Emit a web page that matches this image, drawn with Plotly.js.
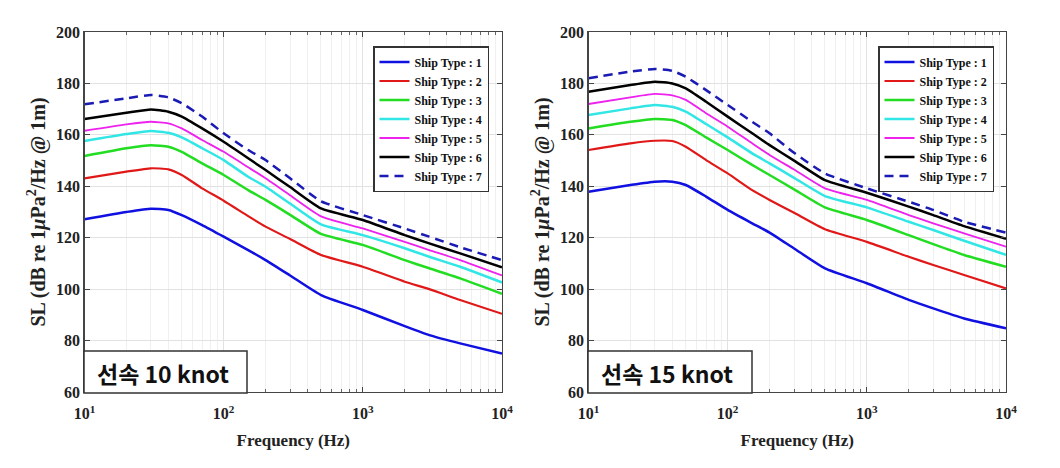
<!DOCTYPE html>
<html>
<head>
<meta charset="utf-8">
<script src="https://cdn.plot.ly/plotly-3.0.1.min.js"></script>
<style>html,body{margin:0;padding:0;background:#fff;}#chart{width:1060px;height:468px;}</style>
</head>
<body>
<div id="chart"></div>
<script>
// Frequencies (Hz)
const freq = [10, 20, 30, 40, 50, 70, 100, 150, 200, 300, 500, 1000, 2000, 3000, 5000, 10000];

// 10 knot
const k10_type1 = [127.2, 130.0, 131.3, 130.8, 128.8, 124.9, 120.4, 115.2, 111.3, 105.3, 97.7, 91.9, 85.6, 82.1, 78.9, 75.0];
const k10_type2 = [143.1, 145.7, 147.0, 146.6, 144.4, 139.2, 134.4, 128.4, 124.3, 119.5, 113.3, 108.7, 102.9, 100.0, 95.8, 90.4];
const k10_type3 = [151.8, 154.8, 156.0, 155.4, 153.4, 148.9, 144.4, 138.5, 134.7, 128.9, 121.5, 117.2, 111.3, 108.1, 104.2, 98.2];
const k10_type4 = [157.6, 160.3, 161.5, 160.8, 159.0, 154.8, 150.2, 143.7, 139.8, 133.3, 125.2, 121.0, 115.9, 112.6, 108.7, 102.6];
const k10_type5 = [161.6, 164.1, 165.1, 164.5, 162.5, 158.0, 153.4, 147.4, 143.1, 136.5, 128.3, 123.6, 118.4, 115.2, 111.3, 105.3];
const k10_type6 = [166.2, 168.6, 169.9, 169.0, 167.1, 162.5, 157.3, 150.9, 146.3, 139.7, 131.4, 126.9, 121.0, 117.8, 113.9, 108.5];
const k10_type7 = [171.9, 174.2, 175.5, 174.6, 172.3, 167.1, 160.6, 154.1, 150.2, 143.1, 134.2, 128.8, 123.6, 120.4, 116.3, 111.3];

// 15 knot
const k15_type1 = [137.9, 140.5, 141.8, 141.8, 140.5, 136.0, 130.8, 125.6, 122.0, 115.8, 108.1, 102.3, 95.8, 92.5, 88.6, 84.8];
const k15_type2 = [154.1, 156.7, 157.7, 157.6, 155.4, 150.2, 145.0, 138.5, 134.7, 129.7, 123.3, 118.4, 112.6, 109.4, 105.5, 100.3];
const k15_type3 = [162.5, 165.1, 166.2, 165.8, 163.8, 159.0, 154.1, 148.3, 144.4, 138.8, 131.8, 126.9, 121.0, 117.5, 113.3, 108.7];
const k15_type4 = [167.7, 170.3, 171.6, 170.9, 169.0, 164.2, 159.0, 152.8, 148.9, 143.3, 136.2, 131.8, 126.2, 123.0, 118.8, 113.3];
const k15_type5 = [172.0, 174.6, 175.9, 175.4, 173.6, 168.4, 163.2, 156.7, 152.2, 146.5, 139.2, 134.7, 128.8, 125.6, 121.7, 116.5];
const k15_type6 = [176.8, 179.4, 180.7, 180.0, 178.1, 172.9, 167.1, 160.6, 156.0, 150.0, 142.4, 137.5, 132.1, 128.8, 124.5, 119.6];
const k15_type7 = [182.0, 184.6, 185.6, 184.9, 182.6, 177.4, 171.6, 165.1, 160.6, 153.0, 145.0, 139.2, 134.0, 130.8, 126.2, 122.0];

const seriesNames = ['Ship Type : 1', 'Ship Type : 2', 'Ship Type : 3', 'Ship Type : 4', 'Ship Type : 5', 'Ship Type : 6', 'Ship Type : 7'];
const panelLabels = ['선속 10 knot', '선속 15 knot'];
const yTickVals = [60, 80, 100, 120, 140, 160, 180, 200];
const xTickVals = [10, 100, 1000, 10000];
const xTickText = ['10<sup>1</sup>', '10<sup>2</sup>', '10<sup>3</sup>', '10<sup>4</sup>'];
const minorDigits = [2, 3, 4, 5, 6, 7, 8, 9];

// minor log gridline positions (2..9 within each decade)
const xMinorVals = [];
[10, 100, 1000].forEach(d => minorDigits.forEach(m => xMinorVals.push(d * m)));

const styles = [
  {color: '#1010e0', width: 2.5},
  {color: '#e01818', width: 2.2},
  {color: '#22dd22', width: 2.5},
  {color: '#33e6e6', width: 2.5},
  {color: '#ee22ee', width: 1.8},
  {color: '#000000', width: 2.5},
  {color: '#1a1ab4', width: 2.5, dash: '9px,6px'}
];

const k10 = [k10_type1, k10_type2, k10_type3, k10_type4, k10_type5, k10_type6, k10_type7];
const k15 = [k15_type1, k15_type2, k15_type3, k15_type4, k15_type5, k15_type6, k15_type7];

const traces = [];
k10.forEach((ys, i) => traces.push({
  x: freq, y: ys, type: 'scatter', mode: 'lines', name: seriesNames[i],
  xaxis: 'x', yaxis: 'y', legend: 'legend',
  line: Object.assign({shape: 'spline', smoothing: 0.5}, styles[i])
}));
k15.forEach((ys, i) => traces.push({
  x: freq, y: ys, type: 'scatter', mode: 'lines', name: seriesNames[i],
  xaxis: 'x2', yaxis: 'y2', legend: 'legend2',
  line: Object.assign({shape: 'spline', smoothing: 0.5}, styles[i])
}));

const W = 1060, H = 468;
const px = v => v / W;
const py = v => 1 - v / H;

const tickFont = {family: 'Liberation Serif', size: 16, color: '#222', weight: 'bold'};
const xTitleFont = {family: 'Liberation Serif', size: 17, color: '#222', weight: 'bold'};
const yTitleFont = {family: 'Liberation Serif', size: 20, color: '#222', weight: 'bold'};

function xAxis(domain, anchor) {
  return {
    type: 'log', range: [1, 4], domain: domain, anchor: anchor,
    tickvals: xTickVals, ticktext: xTickText, tickfont: tickFont,
    ticklabelstandoff: 7,
    showgrid: true, gridcolor: '#e2e2e2', gridwidth: 1,
    ticks: 'inside', ticklen: 5, tickcolor: '#444',
    minor: {tickvals: xMinorVals, showgrid: true, gridcolor: '#f0f0f0', ticks: 'inside', ticklen: 3, tickcolor: '#666'},
    showline: true, linecolor: '#444', linewidth: 1.2, mirror: 'ticks',
    zeroline: false, automargin: false,
    title: {text: 'Frequency (Hz)', font: xTitleFont, standoff: 12}
  };
}
function yAxis(domain, anchor) {
  return {
    range: [60, 200], domain: domain, anchor: anchor,
    tickvals: yTickVals, tickfont: tickFont,
    showgrid: true, gridcolor: '#e2e2e2', gridwidth: 1,
    ticks: 'inside', ticklen: 5, tickcolor: '#444',
    showline: true, linecolor: '#444', linewidth: 1.2, mirror: 'ticks',
    zeroline: false, automargin: false,
    title: {text: 'SL (dB re 1<i>μ</i>Pa<sup>2</sup>/Hz @ 1m)', font: yTitleFont, standoff: 5}
  };
}

const yDom = [py(392), py(32)];
const legendFont = {family: 'Liberation Serif', size: 12, color: '#111', weight: 'bold'};
const labelFont = {family: 'Noto Sans CJK KR', size: 23, color: '#111', weight: 'bold'};

const layout = {
  width: W, height: H,
  margin: {l: 0, r: 0, t: 0, b: 0},
  paper_bgcolor: '#fff', plot_bgcolor: '#fff',
  showlegend: true,
  xaxis: xAxis([px(84.5), px(502)], 'y'),
  yaxis: yAxis(yDom, 'x'),
  xaxis2: xAxis([px(588.5), px(1006)], 'y2'),
  yaxis2: yAxis(yDom, 'x2'),
  legend: {
    x: px(373), y: py(46), xanchor: 'left', yanchor: 'top',
    bgcolor: '#fff', bordercolor: '#333', borderwidth: 1.5,
    font: legendFont, tracegroupgap: 0, itemwidth: 30
  },
  legend2: {
    x: px(878), y: py(46), xanchor: 'left', yanchor: 'top',
    bgcolor: '#fff', bordercolor: '#333', borderwidth: 1.5,
    font: legendFont, tracegroupgap: 0, itemwidth: 30
  },
  shapes: [
    {type: 'rect', xref: 'paper', yref: 'paper', x0: px(84), x1: px(247), y0: py(393), y1: py(351),
     line: {color: '#333', width: 1.5}, fillcolor: '#fff', layer: 'above'},
    {type: 'rect', xref: 'paper', yref: 'paper', x0: px(588), x1: px(752), y0: py(393), y1: py(351),
     line: {color: '#333', width: 1.5}, fillcolor: '#fff', layer: 'above'}
  ],
  annotations: [
    {xref: 'paper', yref: 'paper', x: px(95), y: py(373), xanchor: 'left', yanchor: 'middle',
     text: panelLabels[0], showarrow: false, font: labelFont},
    {xref: 'paper', yref: 'paper', x: px(599), y: py(373), xanchor: 'left', yanchor: 'middle',
     text: panelLabels[1], showarrow: false, font: labelFont}
  ]
};

Plotly.newPlot('chart', traces, layout, {staticPlot: true, displayModeBar: false});
</script>
</body>
</html>
